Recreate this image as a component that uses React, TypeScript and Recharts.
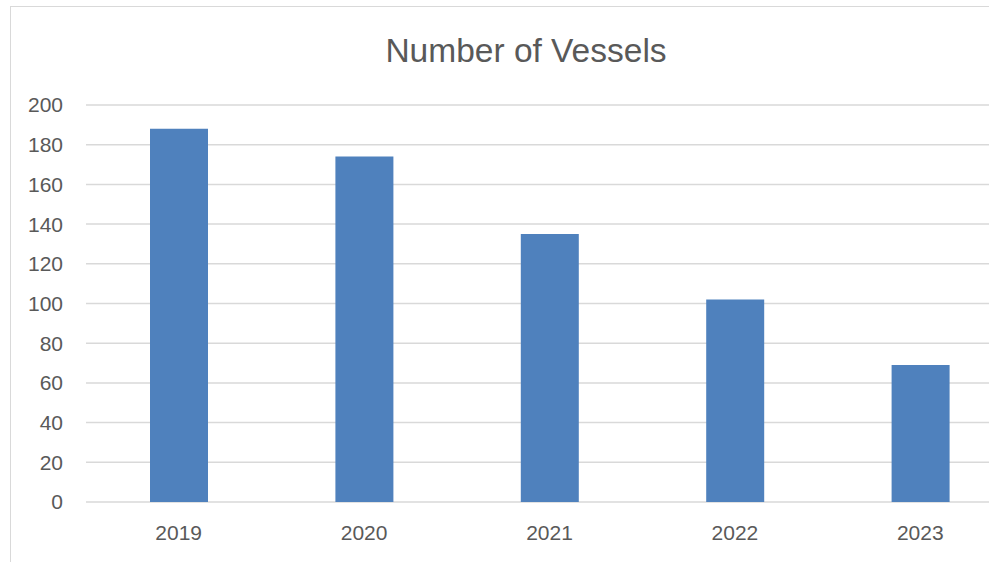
import { BarChart, Bar, XAxis, YAxis, CartesianGrid } from "recharts";

const years = ["2019", "2020", "2021", "2022", "2023"];
const vessels = [188, 174, 135, 102, 69];
const yTicks = [0, 20, 40, 60, 80, 100, 120, 140, 160, 180, 200];

const data = years.map((year, i) => ({ year, vessels: vessels[i] }));

const textColor = "#595959";
const gridColor = "#d9d9d9";
const barColor = "#4f81bd";
const font = "'Liberation Sans', Arial, sans-serif";

export default function App() {
  return (
    <div
      style={{
        position: "fixed",
        left: 0,
        top: 0,
        width: 989,
        height: 562,
        overflow: "hidden",
        background: "#fff",
        fontFamily: font,
      }}
    >
      {/* chart area border, cropped at the right and bottom like the original */}
      <div
        style={{
          position: "absolute",
          left: 10,
          top: 6,
          width: 1060,
          height: 620,
          border: `1.5px solid ${gridColor}`,
        }}
      />
      <div
        style={{
          position: "absolute",
          left: 0,
          width: 1052,
          top: 32,
          textAlign: "center",
          fontSize: 33.5,
          color: textColor,
          lineHeight: "38px",
        }}
      >
        Number of Vessels
      </div>
      <div style={{ position: "absolute", left: 0, top: 0 }}>
        <BarChart
          width={1040}
          height={562}
          data={data}
          margin={{ top: 105, right: 27, bottom: 30, left: 0 }}
        >
          <CartesianGrid vertical={false} stroke={gridColor} strokeWidth={1.5} />
          <XAxis
            dataKey="year"
            axisLine={false}
            tickLine={false}
            tickSize={0}
            tickMargin={23}
            height={30}
            tick={{ fontSize: 21, fill: textColor, fontFamily: font }}
          />
          <YAxis
            domain={[0, 200]}
            ticks={yTicks}
            axisLine={false}
            tickLine={false}
            tickSize={0}
            tickMargin={23}
            width={86}
            tick={{ fontSize: 21, fill: textColor, fontFamily: font }}
          />
          <Bar dataKey="vessels" fill={barColor} barSize={58} isAnimationActive={false} />
        </BarChart>
      </div>
    </div>
  );
}
